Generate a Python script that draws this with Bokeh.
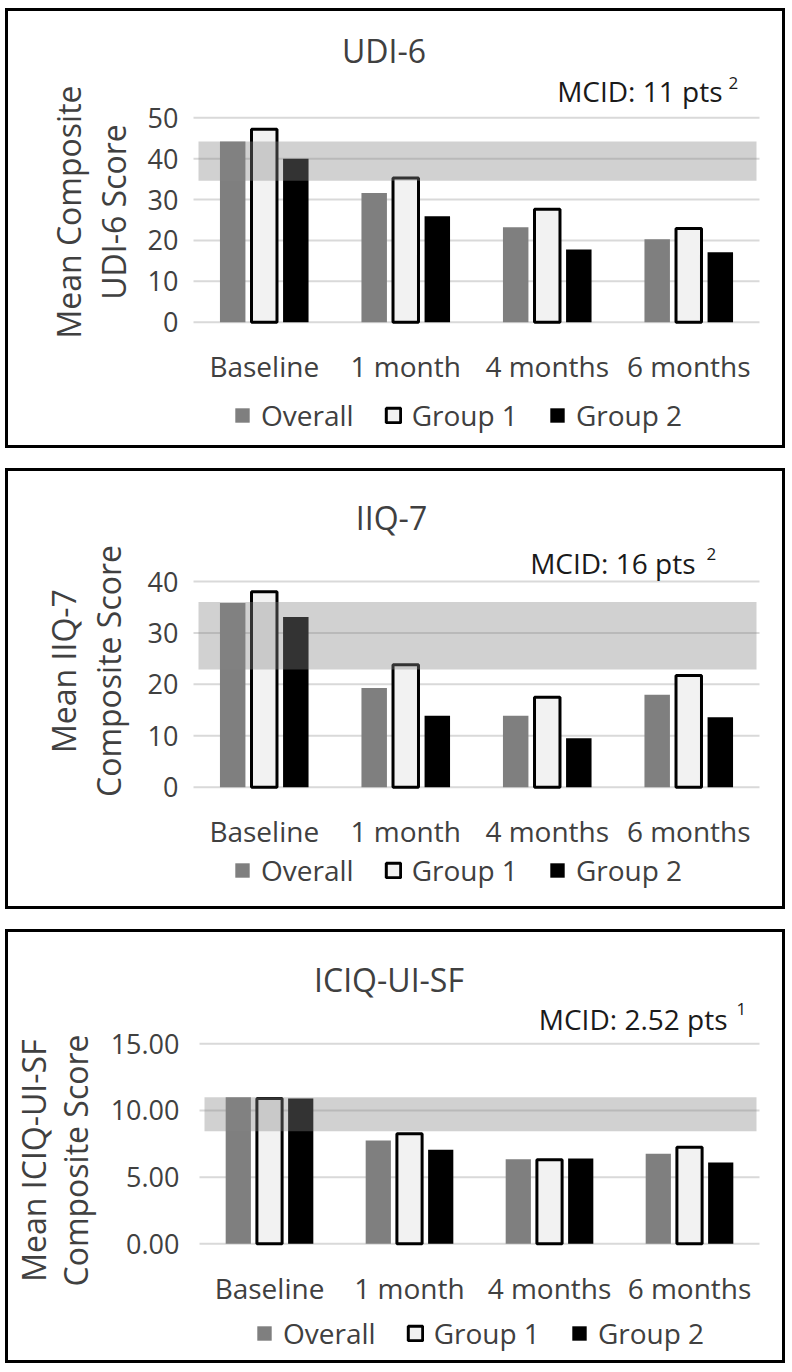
from bokeh.plotting import figure
from bokeh.models import (Range1d, FixedTicker, BoxAnnotation, Label, Legend, LegendItem,
                          PrintfTickFormatter, ColumnDataSource)
from bokeh.transform import dodge
from bokeh.layouts import column
from bokeh.embed import file_html
from bokeh.resources import INLINE
import math

categories = ["Baseline", "1 month", "4 months", "6 months"]
series_names = ["Overall", "Group 1", "Group 2"]

# UDI-6
udi_overall = [44.2, 31.6, 23.2, 20.3]
udi_group1 = [47.2, 35.3, 27.6, 22.9]
udi_group2 = [40.0, 25.9, 17.8, 17.1]
udi_band = [34.6, 44.2]
udi_ticks = [0, 10, 20, 30, 40, 50]

# IIQ-7
iiq_overall = [35.8, 19.3, 13.9, 18.0]
iiq_group1 = [38.0, 23.8, 17.5, 21.7]
iiq_group2 = [33.1, 13.9, 9.5, 13.6]
iiq_band = [22.9, 36.0]
iiq_ticks = [0, 10, 20, 30, 40]

# ICIQ-UI-SF
iciq_overall = [11.0, 7.75, 6.35, 6.75]
iciq_group1 = [10.9, 8.25, 6.3, 7.25]
iciq_group2 = [10.9, 7.05, 6.4, 6.1]
iciq_band = [8.45, 11.0]
iciq_ticks = [0, 5, 10, 15]

FONT = "Open Sans"
TXT = "#404040"
W = 780
OX = 5          # page x of the panel's left edge
FR = 759        # page x of the plot area's right edge
LEG_H = 38


def style_axis(ax):
    ax.axis_line_color = None
    ax.major_tick_line_color = None
    ax.minor_tick_line_color = None
    ax.major_tick_out = 0
    ax.major_tick_in = 0
    ax.minor_tick_out = 0
    ax.minor_tick_in = 0
    ax.major_label_text_font = FONT
    ax.major_label_text_color = TXT


def make_panel(title, ylabel, overall, g1, g2, band, ticks, fmt, mcid, sup,
               page_top, H, fl, zero, ytop, title_pos, mcid_pos, sup_pos,
               ylab_x, ylab_y, legend_pos, tick_standoff, band_x=(5, 3)):
    n = len(categories)
    ymax = ticks[-1]
    k = (zero - ytop) / ymax
    cw = (FR - fl) / n

    def sx(px):
        return (px - fl) / cw

    def sy(py):
        return (zero - py) / k

    p = figure(width=W, height=H,
               x_range=Range1d(sx(OX), sx(OX + W)),
               y_range=Range1d(sy(page_top + H), sy(page_top)),
               output_backend="svg", toolbar_location=None,
               min_border=0,
               styles={"box-shadow": "inset 0 0 0 3px black"})
    p.outline_line_color = None
    p.background_fill_color = None
    p.background_fill_alpha = 0
    p.border_fill_color = None
    p.border_fill_alpha = 0
    p.xgrid.visible = False
    p.ygrid.visible = False

    # grid lines across the plot area only
    p.segment(x0=[0] * len(ticks), x1=[n] * len(ticks), y0=ticks, y1=ticks,
              line_color="#d9d9d9", line_width=2)

    xs = [i + 0.5 for i in range(n)]
    src = ColumnDataSource(dict(x=xs, overall=overall, g1=g1, g2=g2))
    r0 = p.vbar(x=dodge("x", -0.223), top="overall", width=0.18,
                source=src, fill_color="#7f7f7f", line_color=None)
    r1 = p.vbar(x=dodge("x", 0.0), top="g1", width=0.18,
                source=src, fill_color="#f2f2f2", line_color="black", line_width=3)
    r2 = p.vbar(x=dodge("x", 0.223), top="g2", width=0.18,
                source=src, fill_color="black", line_color=None)

    p.add_layout(BoxAnnotation(bottom=band[0], top=band[1],
                               left=sx(fl + band_x[0]), right=sx(FR - band_x[1]),
                               fill_color="#868686", fill_alpha=0.38, line_alpha=0))

    ya = p.yaxis[0]
    ya.ticker = FixedTicker(ticks=ticks)
    ya.formatter = PrintfTickFormatter(format=fmt)
    ya.fixed_location = 0
    ya.bounds = (0, ymax)
    style_axis(ya)
    ya.major_label_text_font_size = "27px"
    ya.major_label_standoff = tick_standoff

    xa = p.xaxis[0]
    xa.ticker = FixedTicker(ticks=xs)
    xa.major_label_overrides = {x: c for x, c in zip(xs, categories)}
    xa.fixed_location = 0
    style_axis(xa)
    xa.major_label_text_font_size = "28px"
    xa.major_label_standoff = 25

    for txt, lx in zip(ylabel, ylab_x):
        p.add_layout(Label(x=sx(lx), y=sy(ylab_y), text=txt, angle=math.pi / 2,
                           text_align="center", text_baseline="middle",
                           text_font=FONT, text_font_size="32px", text_color=TXT))

    p.add_layout(Label(x=sx(title_pos[0]), y=sy(title_pos[1]),
                       text=title, text_align="center", text_baseline="alphabetic",
                       text_font=FONT, text_font_size="32px", text_color=TXT))
    p.add_layout(Label(x=sx(mcid_pos[0]), y=sy(mcid_pos[1]),
                       text=mcid, text_align="right", text_baseline="alphabetic",
                       text_font=FONT, text_font_size="28px", text_color="#1a1a1a"))
    p.add_layout(Label(x=sx(sup_pos[0]), y=sy(sup_pos[1]),
                       text=sup, text_align="left", text_baseline="alphabetic",
                       text_font=FONT, text_font_size="17px", text_color="#1a1a1a"))

    items = [LegendItem(label=series_names[0], renderers=[r0]),
             LegendItem(label=series_names[1], renderers=[r1]),
             LegendItem(label=series_names[2], renderers=[r2])]
    legend = Legend(items=items,
                    location=(legend_pos[0] - OX, (page_top + H) - (legend_pos[1] + LEG_H / 2)),
                    orientation="horizontal", background_fill_alpha=0, border_line_alpha=0,
                    label_text_font=FONT, label_text_font_size="28px",
                    label_text_color=TXT, glyph_width=18, glyph_height=18,
                    label_standoff=10, spacing=30, padding=0, margin=0)
    p.add_layout(legend)
    return p


p1 = make_panel("UDI-6", ["Mean Composite", "UDI-6 Score"], udi_overall, udi_group1,
                udi_group2, udi_band, udi_ticks, "%d", "MCID: 11 pts", "2",
                page_top=8, H=440, fl=193, zero=321.7, ytop=117.3,
                title_pos=(383.5, 50), mcid_pos=(722, 90), sup_pos=(728, 82),
                ylab_x=(68, 113), ylab_y=211.5, legend_pos=(233, 415), tick_standoff=15)
p2 = make_panel("IIQ-7", ["Mean IIQ-7", "Composite Score"], iiq_overall, iiq_group1,
                iiq_group2, iiq_band, iiq_ticks, "%d", "MCID: 16 pts", "2",
                page_top=468, H=441, fl=193, zero=786.7, ytop=581,
                title_pos=(391, 517), mcid_pos=(695, 562), sup_pos=(706, 553),
                ylab_x=(63, 108), ylab_y=670.5, legend_pos=(233, 870), tick_standoff=15)
p3 = make_panel("ICIQ-UI-SF", ["Mean ICIQ-UI-SF", "Composite Score"], iciq_overall,
                iciq_group1, iciq_group2, iciq_band, iciq_ticks, "%.2f", "MCID: 2.52 pts", "1",
                page_top=929, H=434, fl=199, zero=1243.3, ytop=1043.3,
                title_pos=(388.5, 979), mcid_pos=(727, 1018), sup_pos=(736, 1008),
                ylab_x=(33, 75), ylab_y=1160, legend_pos=(255, 1332.7), tick_standoff=20)

layout = column(p1, p2, p3, spacing=20, margin=(8, 0, 0, OX))
open("out.html", "w").write(file_html(layout, INLINE))
